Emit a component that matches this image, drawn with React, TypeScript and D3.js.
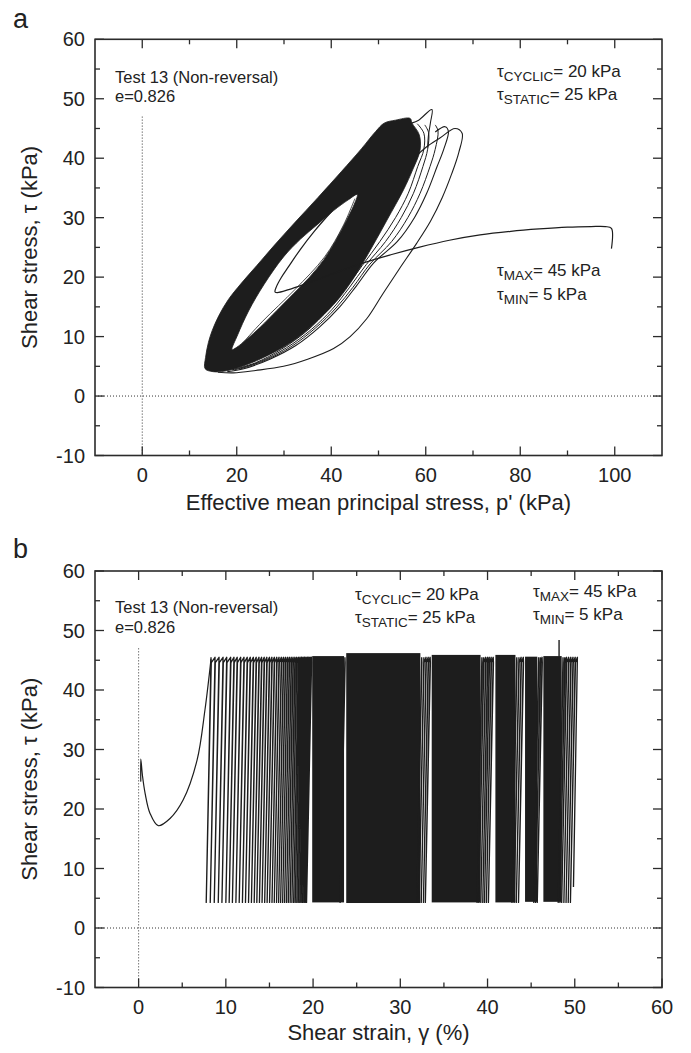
import React from "react";
import * as d3 from "d3";

const W = 691;
const H = 1053;
const FONT = "'Liberation Sans', Arial, Helvetica, sans-serif";
const INK = "#1d1d1d";
const FRAME = "#2b2b2b";

// ---------------- Panel a : tau vs p' ----------------
const aXDomain: [number, number] = [-10, 110];
const aYDomain: [number, number] = [-10, 60];
const aXMajor = [0, 20, 40, 60, 80, 100];
const aXMinor = [10, 30, 50, 70, 90];
const yMajor = [-10, 0, 10, 20, 30, 40, 50, 60];
const yMinor = [-5, 5, 15, 25, 35, 45, 55];

// dense loop band: outer envelope and inner hole (p', tau)
const bandOuter: [number, number][] = [
  [13.3, 4.6], [13.4, 6.5], [14.0, 9.0], [14.8, 11.0], [16.2, 13.5], [18.2, 16.2],
  [21.0, 19.0], [24.3, 22.0], [28.0, 25.4], [32.2, 29.1], [37.2, 33.4], [42.2, 37.8],
  [46.4, 41.6], [49.4, 44.5], [51.2, 45.9], [53.6, 46.4], [56.7, 46.7], [57.1, 45.9],
  [58.6, 44.0], [58.8, 41.4], [57.2, 38.0], [55.3, 34.7], [51.8, 29.6], [48.3, 24.6],
  [44.7, 19.8], [41.5, 16.3], [37.5, 13.0], [32.5, 9.6], [27.0, 7.0], [21.5, 5.1],
  [17.5, 4.2], [15.0, 4.1],
];
const bandHole: [number, number][] = [
  [19.0, 7.8], [20.2, 10.3], [22.5, 14.3], [25.8, 18.8], [29.9, 23.4], [33.5, 26.4],
  [37.0, 28.8], [40.5, 31.2], [43.6, 33.0], [45.5, 33.9], [45.0, 32.5], [43.2, 29.5],
  [41.0, 26.2], [38.4, 22.9], [35.3, 19.9], [32.0, 17.2], [28.5, 14.4], [25.0, 11.6],
  [22.2, 9.6], [20.0, 8.2],
];
// first (static -> cyclic) stress path
const aInitial: [number, number][] = [
  [99.3, 24.8], [99.3, 28.2], [98.0, 28.5], [95.0, 28.5], [90.0, 28.4], [84.0, 28.1],
  [78.0, 27.7], [71.5, 27.1], [65.0, 26.2], [58.5, 25.0], [52.8, 23.8], [46.8, 22.4],
  [40.5, 20.6], [35.0, 19.0], [31.0, 17.9], [28.6, 17.4], [28.1, 17.5], [28.4, 18.4],
  [29.4, 19.9], [31.0, 21.8], [33.4, 24.6], [36.4, 27.7], [40.0, 31.0],
];
// individual early loops visible outside the dense band
const outerLoop: [number, number][] = [
  [16.0, 4.0], [19.3, 3.9], [24.0, 4.3], [29.9, 5.0], [35.0, 6.2], [40.5, 8.0],
  [44.0, 10.0], [47.5, 13.0], [51.0, 17.3], [54.5, 21.5], [58.0, 25.6], [61.0, 29.4],
  [63.5, 33.4], [65.5, 37.4], [67.0, 41.0], [67.7, 44.2], [66.2, 45.0], [63.0, 43.4],
  [60.0, 41.8], [57.5, 40.0],
];
const hatchA: [number, number][] = [
  [62.0, 44.4], [64.1, 45.3], [64.8, 44.5], [63.8, 41.5], [62.4, 38.6], [60.2, 34.1],
  [57.6, 30.0], [54.0, 26.0], [49.0, 22.4], [45.3, 18.5], [41.8, 15.0], [37.5, 11.6],
  [32.5, 8.5], [27.0, 6.2], [21.5, 4.6], [18.0, 4.1],
];
const hatchB: [number, number][] = [
  [62.0, 45.6], [62.6, 44.6], [62.0, 41.5], [60.9, 38.6], [58.8, 34.1], [56.2, 30.0],
  [52.8, 26.0], [48.2, 22.2], [44.6, 18.3], [41.0, 14.8], [36.6, 11.4], [31.5, 8.3],
  [26.0, 6.0], [20.5, 4.5],
];
const hatchC: [number, number][] = [
  [59.8, 45.6], [60.6, 44.3], [60.4, 41.5], [59.4, 38.6], [57.4, 34.1], [54.8, 30.0],
  [51.5, 26.0], [47.4, 22.1], [43.8, 18.2], [40.2, 14.6], [35.8, 11.2], [30.5, 8.1],
  [25.0, 5.8], [19.5, 4.4],
];
const hatchD: [number, number][] = [
  [58.2, 45.8], [59.6, 44.2], [59.6, 41.5], [58.3, 38.6], [56.3, 34.1], [53.6, 30.0],
  [50.3, 26.0], [46.6, 22.0], [43.0, 18.1], [39.3, 14.5], [34.9, 11.0], [29.5, 7.9],
  [24.0, 5.6], [19.0, 4.4],
];
const spikeLoop: [number, number][] = [
  [57.0, 45.9], [58.5, 46.4], [61.3, 48.2], [61.0, 46.0], [60.6, 44.0], [60.4, 41.8],
];
const holeLine: [number, number][] = [
  [21.0, 8.7], [25.5, 12.6], [32.3, 17.9], [38.6, 23.4], [42.5, 28.6], [45.0, 33.2],
];

// ---------------- Panel b : tau vs shear strain ----------------
const bXDomain: [number, number] = [-5, 60];
const bXMajor = [0, 10, 20, 30, 40, 50, 60];
const bXMinor = [5, 15, 25, 35, 45, 55];

const bInitialStrain = [0.25, 0.25, 0.45, 0.75, 1.3, 2.25, 3.6, 5.1, 6.7, 7.6, 8.3];
const bInitialTau = [24.6, 28.4, 25.5, 22.6, 19.3, 17.2, 18.4, 21.5, 28.2, 36.6, 45.2];

// strain at the peak of each cycle resolved in the picture (outside the solid blocks)
const cycleTopStrain = [
  8.3, 8.76, 9.22, 9.68, 10.1, 10.55, 10.93, 11.3, 11.7, 12.08, 12.45, 12.8, 13.15, 13.48,
  13.8, 14.1, 14.4, 14.7, 15.0, 15.28, 15.56, 15.84, 16.1, 16.36, 16.6, 16.83, 17.06,
  17.28, 17.5, 17.71, 17.92, 18.12, 18.32, 18.5, 18.68, 18.85, 19.02, 19.18, 19.34,
  19.5, 19.65, 19.8,
  23.65,
  32.45, 32.7, 32.95, 33.2, 33.42,
  39.35, 39.55, 39.78, 40.0, 40.2, 40.42, 40.65,
  43.35, 43.6, 43.85, 44.1,
  45.85, 46.05, 46.25,
  48.65, 48.85, 49.05, 49.3, 49.55, 49.8, 50.05, 50.3,
];
const cyclePeakTau = 45.5;
const cycleTroughTau = 4.3;
const unloadSlant = 0.55; // strain shift between peak and trough of a line (%)

// strain ranges where the cycles overlap into solid black
const blockStart = [19.9, 23.8, 33.6, 40.9, 44.3, 46.4];
const blockEnd = [23.55, 32.3, 39.2, 43.2, 45.7, 48.5];
const blockTop = [45.7, 46.2, 45.9, 45.9, 45.6, 45.7];
const blockBottom = [4.3, 4.2, 4.3, 4.3, 4.4, 4.4];

const spikeStrain = [48.2];
const spikeTau = [48.4];
const finalTrough: [number, number] = [49.85, 6.9];

// ---------------- geometry ----------------
const PLOT_L = 95;
const PLOT_R = 662;

type Scale = d3.ScaleLinear<number, number>;

function Frame({
  x, y, xMajor, xMinor, yMaj, yMin,
}: { x: Scale; y: Scale; xMajor: number[]; xMinor: number[]; yMaj: number[]; yMin: number[] }) {
  const [x0, x1] = x.range();
  const [y0, y1] = y.range();
  const MAJ = 9;
  const MIN = 5;
  const ticks: JSX.Element[] = [];
  xMajor.forEach((v, i) => {
    const px = x(v);
    ticks.push(<line key={`xb${i}`} x1={px} x2={px} y1={y0} y2={y0 - MAJ} />);
    ticks.push(<line key={`xt${i}`} x1={px} x2={px} y1={y1} y2={y1 + MAJ} />);
  });
  xMinor.forEach((v, i) => {
    const px = x(v);
    ticks.push(<line key={`xbm${i}`} x1={px} x2={px} y1={y0} y2={y0 - MIN} />);
    ticks.push(<line key={`xtm${i}`} x1={px} x2={px} y1={y1} y2={y1 + MIN} />);
  });
  yMaj.forEach((v, i) => {
    const py = y(v);
    ticks.push(<line key={`yl${i}`} x1={x0} x2={x0 + MAJ} y1={py} y2={py} />);
    ticks.push(<line key={`yr${i}`} x1={x1} x2={x1 - MAJ} y1={py} y2={py} />);
  });
  yMin.forEach((v, i) => {
    const py = y(v);
    ticks.push(<line key={`ylm${i}`} x1={x0} x2={x0 + MIN} y1={py} y2={py} />);
    ticks.push(<line key={`yrm${i}`} x1={x1} x2={x1 - MIN} y1={py} y2={py} />);
  });
  return (
    <g>
      <g stroke={FRAME} strokeWidth={1.3}>{ticks}</g>
      <rect x={x0} y={y1} width={x1 - x0} height={y0 - y1} fill="none" stroke={FRAME} strokeWidth={1.6} />
      <g fontFamily={FONT} fontSize={20} fill="#222">
        {xMajor.map((v) => (
          <text key={`lx${v}`} x={x(v)} y={y0 + 26} textAnchor="middle">{v}</text>
        ))}
        {yMaj.map((v) => (
          <text key={`ly${v}`} x={x0 - 10} y={y(v) + 7} textAnchor="end">{v}</text>
        ))}
      </g>
    </g>
  );
}

function Guides({ x, y }: { x: Scale; y: Scale }) {
  const [x0, x1] = x.range();
  const [y0] = y.range();
  return (
    <g stroke="#333" strokeWidth={1} strokeDasharray="1,2" fill="none">
      <line x1={x0} x2={x1} y1={y(0)} y2={y(0)} />
      <line x1={x(0)} x2={x(0)} y1={y(47)} y2={y0} />
    </g>
  );
}

function TauLabel({ x, y, sub, rest }: { x: number; y: number; sub: string; rest: string }) {
  return (
    <text x={x} y={y} fontFamily={FONT} fontSize={17} fill="#222">
      τ
      <tspan fontSize={13.5} dy={4}>{sub}</tspan>
      <tspan dy={-4}>{rest}</tspan>
    </text>
  );
}

function PanelA() {
  const x = d3.scaleLinear().domain(aXDomain).range([PLOT_L, PLOT_R]);
  const y = d3.scaleLinear().domain(aYDomain).range([455.5, 39.3]);
  const closed = d3
    .line<[number, number]>()
    .x((d) => x(d[0]))
    .y((d) => y(d[1]))
    .curve(d3.curveCatmullRomClosed.alpha(0.5));
  const open = d3
    .line<[number, number]>()
    .x((d) => x(d[0]))
    .y((d) => y(d[1]))
    .curve(d3.curveCatmullRom.alpha(0.5));
  const bandPath = (closed(bandOuter) || "") + (closed(bandHole) || "");
  return (
    <g>
      <Guides x={x} y={y} />
      <g fill="none" stroke={INK} strokeWidth={1.1}>
        <path d={open(outerLoop) || ""} />
        <path d={open(hatchA) || ""} />
        <path d={open(hatchB) || ""} strokeWidth={1} />
        <path d={open(hatchC) || ""} strokeWidth={1} />
        <path d={open(hatchD) || ""} strokeWidth={1} />
        <path d={open(spikeLoop) || ""} />
        <path d={open(holeLine) || ""} strokeWidth={0.8} />
      </g>
      <path d={bandPath} fill={INK} fillRule="evenodd" stroke={INK} strokeWidth={0.8} />
      <path d={open(aInitial) || ""} fill="none" stroke={INK} strokeWidth={1.2} />
      <Frame x={x} y={y} xMajor={aXMajor} xMinor={aXMinor} yMaj={yMajor} yMin={yMinor} />
      <g fontFamily={FONT} fontSize={16.5} fill="#222">
        <text x={115} y={83}>Test 13 (Non-reversal)</text>
        <text x={115} y={102}>e=0.826</text>
      </g>
      <TauLabel x={497} y={77} sub="CYCLIC" rest="= 20 kPa" />
      <TauLabel x={497} y={100} sub="STATIC" rest="= 25 kPa" />
      <TauLabel x={497} y={276} sub="MAX" rest="= 45 kPa" />
      <TauLabel x={497} y={300} sub="MIN" rest="= 5 kPa" />
      <text x={(PLOT_L + PLOT_R) / 2} y={510} textAnchor="middle" fontFamily={FONT} fontSize={22} fill="#222">
        Effective mean principal stress, p' (kPa)
      </text>
      <text transform={`translate(37, ${(455.5 + 39.3) / 2}) rotate(-90)`} textAnchor="middle" fontFamily={FONT} fontSize={22} fill="#222">
        Shear stress, τ (kPa)
      </text>
      <text x={13} y={28} fontFamily={FONT} fontSize={27} fill="#222">a</text>
    </g>
  );
}

function PanelB() {
  const x = d3.scaleLinear().domain(bXDomain).range([PLOT_L, PLOT_R]);
  const y = d3.scaleLinear().domain(aYDomain).range([987.5, 571]);
  const initPts: [number, number][] = bInitialStrain.map((s, i) => [s, bInitialTau[i]]);
  const initLine = d3
    .line<[number, number]>()
    .x((d) => x(d[0]))
    .y((d) => y(d[1]))
    .curve(d3.curveCatmullRom.alpha(0.5));

  // each resolved cycle: unload along the slanted line to the trough, reload back up
  // close to it, then step to the next peak just below the top
  const hookDrop = 0.9;
  const yTop = y(cyclePeakTau);
  const yBot = y(cycleTroughTau);
  const yHook = y(cyclePeakTau - hookDrop);
  let d = "";
  const n = cycleTopStrain.length;
  cycleTopStrain.forEach((s, i) => {
    const inBlock = (v: number) => blockStart.some((b, j) => v > b && v < blockEnd[j]);
    if (i === 0) d += `M${x(s)},${yTop}`;
    if (i === n - 1) {
      d += `L${x(finalTrough[0])},${y(finalTrough[1])}`;
      return;
    }
    const bot = s - unloadSlant;
    d += `L${x(bot)},${yBot}`;
    const hookX = s - unloadSlant * (hookDrop / (cyclePeakTau - cycleTroughTau)) + 0.04;
    const next = cycleTopStrain[i + 1];
    const jumps = blockStart.some((b, j) => b > s && blockEnd[j] < next) || inBlock(next - unloadSlant);
    if (jumps) {
      d += `L${x(hookX)},${yHook}L${x(s)},${yTop}`;
      d += `M${x(next)},${yTop}`;
    } else {
      d += `L${x(hookX)},${yHook}L${x(next)},${yTop}`;
    }
  });
  return (
    <g>
      <Guides x={x} y={y} />
      {blockStart.map((b, i) => (
        <rect
          key={`blk${i}`}
          x={x(b)}
          y={y(blockTop[i])}
          width={x(blockEnd[i]) - x(b)}
          height={y(blockBottom[i]) - y(blockTop[i])}
          fill={INK}
        />
      ))}
      <path d={d} fill="none" stroke={INK} strokeWidth={1.35} strokeLinejoin="round" />
      {spikeStrain.map((s, i) => (
        <line key={`sp${i}`} x1={x(s)} x2={x(s)} y1={y(45.6)} y2={y(spikeTau[i])} stroke={INK} strokeWidth={1.4} />
      ))}
      <path d={initLine(initPts) || ""} fill="none" stroke={INK} strokeWidth={1.2} />
      <Frame x={x} y={y} xMajor={bXMajor} xMinor={bXMinor} yMaj={yMajor} yMin={yMinor} />
      <g fontFamily={FONT} fontSize={16.5} fill="#222">
        <text x={115} y={613}>Test 13 (Non-reversal)</text>
        <text x={115} y={633}>e=0.826</text>
      </g>
      <TauLabel x={355} y={600} sub="CYCLIC" rest="= 20 kPa" />
      <TauLabel x={355} y={623} sub="STATIC" rest="= 25 kPa" />
      <TauLabel x={533} y={597} sub="MAX" rest="= 45 kPa" />
      <TauLabel x={533} y={620} sub="MIN" rest="= 5 kPa" />
      <text x={(PLOT_L + PLOT_R) / 2} y={1040} textAnchor="middle" fontFamily={FONT} fontSize={22} fill="#222">
        Shear strain, γ (%)
      </text>
      <text transform={`translate(37, ${(987.5 + 571) / 2}) rotate(-90)`} textAnchor="middle" fontFamily={FONT} fontSize={22} fill="#222">
        Shear stress, τ (kPa)
      </text>
      <text x={13} y={558} fontFamily={FONT} fontSize={27} fill="#222">b</text>
    </g>
  );
}

export default function App() {
  return (
    <svg
      width={W}
      height={H}
      viewBox={`0 0 ${W} ${H}`}
      style={{ position: "absolute", left: 0, top: 0, background: "#fff" }}
    >
      <rect x={0} y={0} width={W} height={H} fill="#fff" />
      <PanelA />
      <PanelB />
    </svg>
  );
}
